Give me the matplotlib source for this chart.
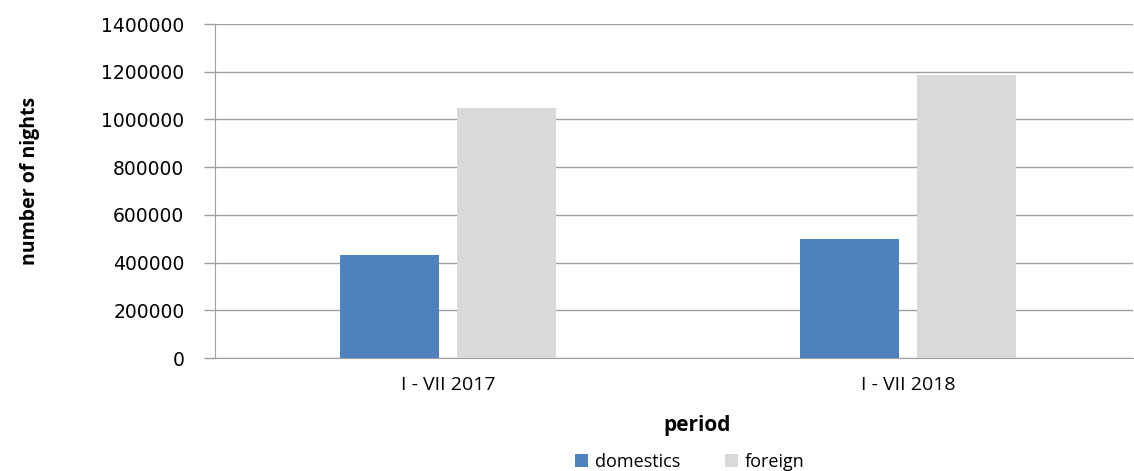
import matplotlib
matplotlib.use("Agg")
import matplotlib.pyplot as plt
import numpy as np

# data
periods = ["I - VII 2017", "I - VII 2018"]
domestics = [430000, 500000]
foreign = [1048000, 1186000]
y_ticks = [0, 200000, 400000, 600000, 800000, 1000000, 1200000, 1400000]

BLUE = "#4F81BD"
GREY = "#D9D9D9"
GRID = "#A0A0A0"
LABEL_FONT = ["Open Sans", "DejaVu Sans"]

W, H = 1134, 471
fig = plt.figure(figsize=(W / 100, H / 100), dpi=100)
ax = fig.add_axes([215 / W, 1 - 358 / H, (1133 - 215) / W, (358 - 24) / H])

x = np.arange(len(periods))
w = 0.215
off = 0.128
ax.bar(x - off, domestics, width=w, color=BLUE, label="domestics", zorder=3)
ax.bar(x + off, foreign, width=w, color=GREY, label="foreign", zorder=3)

ax.set_xlim(-0.5065, 1.489)
ax.set_ylim(0, 1400000)
ax.set_yticks(y_ticks)
ax.set_yticklabels([str(v) for v in y_ticks], fontsize=13.5, family="DejaVu Sans")
ax.set_xticks(x)
ax.set_xticklabels(periods, fontsize=14, family=LABEL_FONT)
ax.tick_params(axis="x", length=0, pad=13)
ax.tick_params(axis="y", length=8, width=1, color=GRID, pad=14)

ax.grid(axis="y", color=GRID, linewidth=1, zorder=0)
for s in ["top", "right"]:
    ax.spines[s].set_visible(False)
ax.spines["left"].set_color(GRID)
ax.spines["bottom"].set_color(GRID)

fig.text(30 / W, 1 - 181 / H, "number of nights", rotation=90, ha="center", va="center",
         fontsize=14, fontweight="bold", family=LABEL_FONT)
fig.text(697 / W, 1 - 425 / H, "period", ha="center", va="center",
         fontsize=15, fontweight="bold", family=LABEL_FONT)

ax.legend(loc="center", bbox_to_anchor=(690 / W, 1 - 462 / H), bbox_transform=fig.transFigure,
          ncol=2, frameon=False, prop={"family": LABEL_FONT, "size": 13},
          handlelength=0.7, handleheight=0.7, handletextpad=0.4, columnspacing=2.5,
          borderpad=0, borderaxespad=0)

fig.savefig("out.png", dpi=100)
